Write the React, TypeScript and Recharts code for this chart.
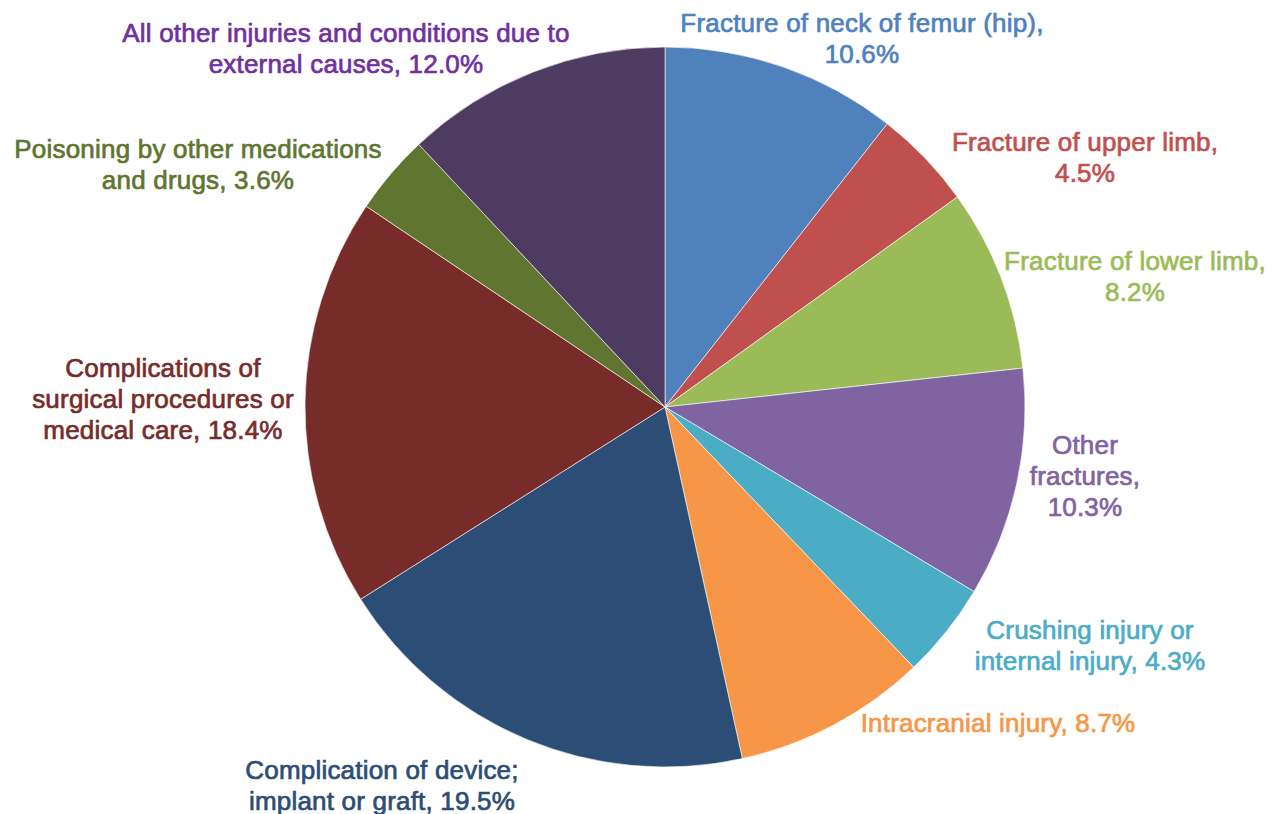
import React from 'react';
import { PieChart, Pie, Cell } from 'recharts';

const categories = [
  'Fracture of neck of femur (hip)',
  'Fracture of upper limb',
  'Fracture of lower limb',
  'Other fractures',
  'Crushing injury or internal injury',
  'Intracranial injury',
  'Complication of device; implant or graft',
  'Complications of surgical procedures or medical care',
  'Poisoning by other medications and drugs',
  'All other injuries and conditions due to external causes',
];

const shares = [10.6, 4.5, 8.2, 10.3, 4.3, 8.7, 19.5, 18.4, 3.6, 12.0];

// how each label wraps, as placed in the original
const labelLines = [
  ['Fracture of neck of femur (hip),', '10.6%'],
  ['Fracture of upper limb,', '4.5%'],
  ['Fracture of lower limb,', '8.2%'],
  ['Other', 'fractures,', '10.3%'],
  ['Crushing injury or', 'internal injury, 4.3%'],
  ['Intracranial injury, 8.7%'],
  ['Complication of device;', 'implant or graft, 19.5%'],
  ['Complications of', 'surgical procedures or', 'medical care, 18.4%'],
  ['Poisoning by other medications', 'and drugs, 3.6%'],
  ['All other injuries and conditions due to', 'external causes, 12.0%'],
];

const sliceColors = [
  '#4F81BD', '#C0504D', '#9BBB59', '#8064A2', '#4BACC6',
  '#F79646', '#2C4D75', '#772C2A', '#5F7530', '#4D3B62',
];

const labelColors = [
  '#4F81BD', '#C0504D', '#9BBB59', '#8064A2', '#4BACC6',
  '#F79646', '#2C4D75', '#772C2A', '#5F7530', '#7030A0',
];

// label block centre, relative to the pie centre (manually placed labels)
const labelOffsets: [number, number][] = [
  [197, -369], [420, -250], [470, -131], [420, 69], [425, 238],
  [333, 316], [-283, 378], [-502, -8], [-467, -243], [-319, -359],
];

const data = categories.map((name, i) => ({ name, value: shares[i] }));

const LINE_H = 31;

const renderLabel = (props: any) => {
  const { cx, cy, index } = props;
  const lines = labelLines[index];
  const [dx, dy] = labelOffsets[index];
  const x = cx + dx;
  const top = cy + dy - ((lines.length - 1) * LINE_H) / 2;
  const color = labelColors[index];
  return (
    <text
      x={x}
      y={top}
      textAnchor="middle"
      dominantBaseline="central"
      fill={color}
      stroke={color}
      strokeWidth={0.7}
      fontSize={26}
      letterSpacing={0.2}
      fontFamily="'Liberation Sans', Arial, sans-serif"
    >
      {lines.map((l, j) => (
        <tspan key={j} x={x} y={top + j * LINE_H}>
          {l}
        </tspan>
      ))}
    </text>
  );
};

export default function App() {
  return (
    <div style={{ position: 'absolute', left: 0, top: 0, background: '#fff' }}>
      <PieChart width={1285} height={814} margin={{ top: 0, right: 0, bottom: 0, left: 0 }}>
        <Pie
          data={data}
          dataKey="value"
          nameKey="name"
          cx={665}
          cy={407}
          outerRadius={360}
          startAngle={90}
          endAngle={-270}
          stroke="#fff"
          strokeWidth={0.6}
          label={renderLabel}
          labelLine={false}
          isAnimationActive={false}
        >
          {data.map((d, i) => (
            <Cell key={d.name} fill={sliceColors[i]} />
          ))}
        </Pie>
      </PieChart>
    </div>
  );
}
